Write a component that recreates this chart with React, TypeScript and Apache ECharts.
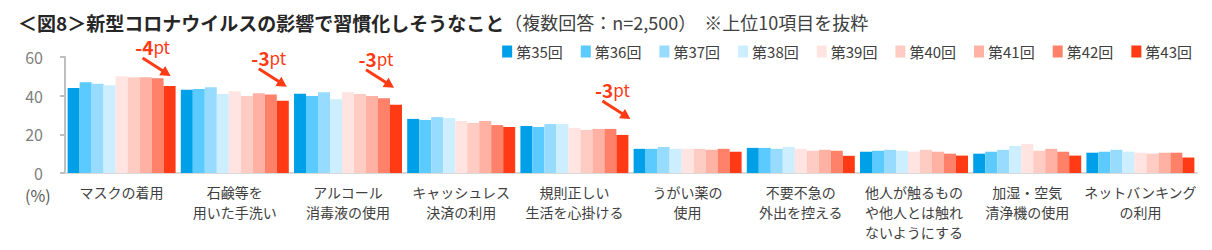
import React, { useEffect, useRef } from "react";
import * as echarts from "echarts";

const categories = [
  "マスクの着用",
  "石鹸等を\n用いた手洗い",
  "アルコール\n消毒液の使用",
  "キャッシュレス\n決済の利用",
  "規則正しい\n生活を心掛ける",
  "うがい薬の\n使用",
  "不要不急の\n外出を控える",
  "他人が触るもの\nや他人とは触れ\nないようにする",
  "加湿・空気\n清浄機の使用",
  "ネットバンキング\nの利用",
];

const seriesNames = ["第35回", "第36回", "第37回", "第38回", "第39回", "第40回", "第41回", "第42回", "第43回"];

const s35 = [44, 43, 41, 28, 24.3, 12.5, 13, 11, 10, 10.5];
const s36 = [47, 43.4, 39.8, 27.4, 23.8, 12.5, 13, 11.5, 11, 11];
const s37 = [46.1, 44.4, 41.8, 28.9, 25.3, 13.5, 12.5, 12, 12, 12];
const s38 = [45.4, 40.8, 38.2, 28.4, 25.3, 12.5, 13.5, 11.5, 14, 11];
const s39 = [50, 42.3, 41.8, 26.9, 23.3, 12.5, 12.5, 11, 15, 10.5];
const s40 = [49.5, 39.8, 40.8, 25.9, 22.3, 12.5, 11.5, 12, 11.5, 10];
const s41 = [49.5, 41.3, 39.8, 26.9, 22.8, 12, 12, 11, 12.5, 10.5];
const s42 = [49, 40.6, 38.6, 24.8, 22.8, 12.5, 11.5, 10, 11, 10.5];
const s43 = [45, 37.4, 35.3, 23.8, 19.7, 11, 8.9, 9, 9, 8];

const yTicks = [0, 20, 40, 60];

// change annotations on the 第43回 series
const annotationCats = [0, 1, 2, 4];
const annotationTexts = ["-4", "-3", "-3", "-3"];

const colors = ["#00A0E9", "#5BCBFF", "#97DBFF", "#CCEEFF", "#FFE4E1", "#FFCCC4", "#FFB2A4", "#FF8169", "#FF3A14"];

const FONT = "'Noto Sans CJK JP', 'Noto Sans', sans-serif";
const ARROW = "path://M0.81,-1.26 L20.41,11.34 L22.57,7.98 L28,18 L16.63,17.22 L18.79,13.86 L-0.81,1.26 Z";
const arrowOffsets = [
  [-13.4, -19.63],
  [-10.4, -23.63],
  [-16.4, -26.63],
  [-6.4, -25.63],
];

export default function App() {
  const ref = useRef<HTMLDivElement>(null);
  useEffect(() => {
    if (!ref.current) return;
    const chart = echarts.init(ref.current, null, { renderer: "svg" });
    const all = [s35, s36, s37, s38, s39, s40, s41, s42, s43];
    const series: any[] = all.map((d, i) => ({
      name: seriesNames[i],
      type: "bar",
      data: d,
      barGap: "0%",
      barCategoryGap: "4.6%",
      itemStyle: { color: colors[i] },
      silent: true,
    }));
    series[8].markPoint = {
      silent: true,
      symbol: ARROW,
      symbolSize: [28.81, 19.26],
      itemStyle: { color: "#FF3A14" },
      label: {
        show: true,
        position: "inside",
        offset: [-3.6, -19.4],
        formatter: (p: any) => `{a|${p.name}}{b|pt}`,
        rich: {
          a: { fontFamily: FONT, fontSize: 19, fontWeight: "bold", color: "#FF3A14", lineHeight: 20 },
          b: { fontFamily: FONT, fontSize: 17, color: "#FF3A14", lineHeight: 20 },
        },
      },
      data: annotationCats.map((c, k) => ({
        name: annotationTexts[k],
        coord: [c, s43[c]],
        symbolOffset: arrowOffsets[k],
      })),
    };
    chart.setOption({
      animation: false,
      title: {
        left: 18,
        top: 11,
        padding: 0,
        text: "{a|＜図8＞新型コロナウイルスの影響で習慣化しそうなこと}{b|（複数回答：n=2,500）  ※上位10項目を抜粋}",
        textStyle: {
          rich: {
            a: { fontFamily: FONT, fontSize: 19, fontWeight: "bold", color: "#262626", lineHeight: 22 },
            b: { fontFamily: FONT, fontSize: 18, fontWeight: "normal", color: "#404040", lineHeight: 22 },
          },
        },
      },
      legend: {
        right: 15,
        top: 39,
        icon: "rect",
        itemWidth: 10,
        itemHeight: 12,
        itemGap: 18,
        textStyle: { fontFamily: FONT, fontSize: 15, color: "#404040", padding: [0, 0, 0, -1] },
        data: seriesNames,
      },
      grid: { left: 65, right: 15, top: 57, bottom: 77, containLabel: false },
      xAxis: {
        type: "category",
        data: categories,
        axisLine: { lineStyle: { color: "#D9D9D9", width: 2 } },
        axisTick: { show: false },
        axisLabel: {
          interval: 0,
          margin: 9,
          fontFamily: FONT,
          fontSize: 14,
          color: "#404040",
          lineHeight: 20,
        },
      },
      yAxis: {
        type: "value",
        min: yTicks[0],
        max: yTicks[yTicks.length - 1],
        interval: 20,
        splitLine: { show: false },
        axisLine: { show: true, lineStyle: { color: "#BFBFBF", width: 2 } },
        axisTick: { show: true, length: 5, lineStyle: { color: "#BFBFBF", width: 2 } },
        axisLabel: { margin: 22, fontFamily: FONT, fontSize: 16, color: "#7F7F7F" },
      },
      graphic: [
        {
          type: "text",
          left: 25,
          top: 187,
          style: { text: "(%)", font: `16px ${FONT}`, fill: "#595959" },
        },
      ],
      series,
    });
    return () => chart.dispose();
  }, []);
  return (
    <div
      ref={ref}
      style={{ position: "fixed", left: 0, top: 0, width: 1212, height: 250, background: "#fff" }}
    />
  );
}
